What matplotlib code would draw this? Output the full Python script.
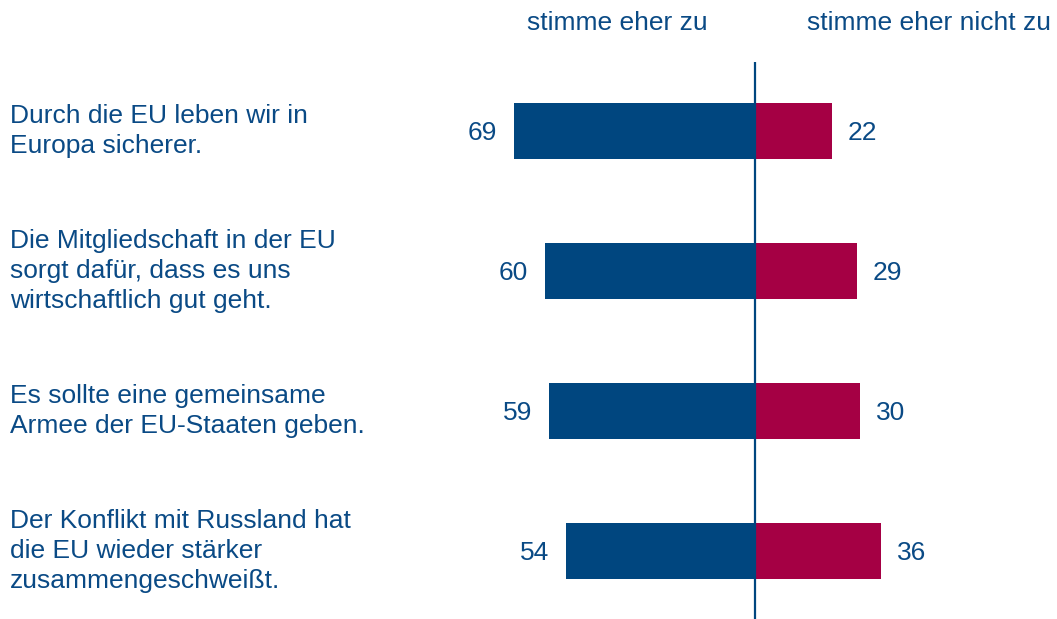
import matplotlib
matplotlib.use("Agg")
import matplotlib.pyplot as plt

categories = [
    "Durch die EU leben wir in\nEuropa sicherer.",
    "Die Mitgliedschaft in der EU\nsorgt dafür, dass es uns\nwirtschaftlich gut geht.",
    "Es sollte eine gemeinsame\nArmee der EU-Staaten geben.",
    "Der Konflikt mit Russland hat\ndie EU wieder stärker\nzusammengeschweißt.",
]
agree = [69, 60, 59, 54]
disagree = [22, 29, 30, 36]
header_agree = "stimme eher zu"
header_disagree = "stimme eher nicht zu"

BLUE = "#00467F"
RED = "#A50044"
TEXT = "#0A4A85"

plt.rcParams['font.family'] = ['Liberation Sans', 'DejaVu Sans']

W, H = 1057, 619
fig = plt.figure(figsize=(W / 100, H / 100), dpi=100)
center_px = 755
scale = 3.5  # px per unit
xmin, xmax = -80, 80
left_px = center_px + xmin * scale
width_px = (xmax - xmin) * scale
top_px, bot_px = 62, 619
ax = fig.add_axes([left_px / W, 1 - bot_px / H, width_px / W, (bot_px - top_px) / H])

ys = list(range(len(categories)))
ax.barh(ys, [-a for a in agree], height=0.4, color=BLUE)
ax.barh(ys, disagree, height=0.4, color=RED)
ax.axvline(0, color=BLUE, lw=1.6)

ax.set_xlim(xmin, xmax)
ax.set_ylim(3 + (619 - 551) / 140, -(131 - 62) / 140)
ax.axis('off')

fs = 19
for y, a, d in zip(ys, agree, disagree):
    ax.annotate(str(a), (-a, y), xytext=(-12, -1.5), textcoords='offset points',
                ha='right', va='center', fontsize=fs, color=TEXT)
    ax.annotate(str(d), (d, y), xytext=(11.5, -1.5), textcoords='offset points',
                ha='left', va='center', fontsize=fs, color=TEXT)
    ax.annotate(categories[y], (0, y), xycoords=('figure pixels', 'data'),
                xytext=(10 * 0.72, 0), textcoords='offset points',
                ha='left', va='center', fontsize=fs, color=TEXT, linespacing=1.33)

fig.text(617 / W, 1 - 23.5 / H, header_agree, ha='center', va='center', fontsize=fs, color=TEXT)
fig.text(929 / W, 1 - 23.5 / H, header_disagree, ha='center', va='center', fontsize=fs, color=TEXT)

fig.savefig("out.png", dpi=100)
